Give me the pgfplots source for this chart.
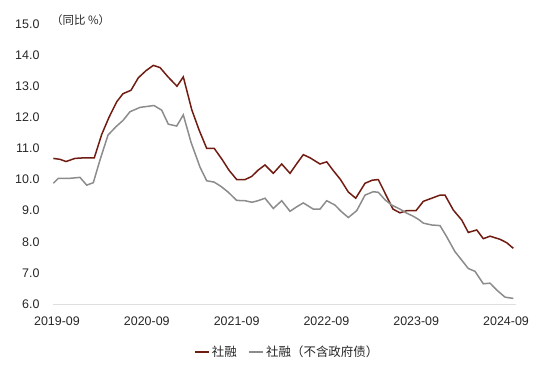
\documentclass[border=0pt]{standalone}
\usepackage{fontspec}
\setmainfont{Liberation Sans}
\newfontfamily\cjk{Noto Sans CJK SC}
\usepackage{pgfplots}
\pgfplotsset{compat=1.18}
\definecolor{sbrown}{RGB}{112,28,18}
\definecolor{sgray}{RGB}{140,140,140}
\definecolor{axgray}{RGB}{222,222,222}
\begin{document}
\begin{tikzpicture}[x=1bp,y=1bp]
\path[use as bounding box] (0,0) rectangle (550,366);
\begin{axis}[
 at={(53bp,62bp)}, anchor=south west,
 scale only axis, width=463bp, height=280bp,
 xmin=53, xmax=516, ymin=6, ymax=15,
 axis x line*=bottom, axis y line*=left,
 x axis line style={-, draw=axgray, line width=0.8bp},
 y axis line style={draw=none},
 xtick={57,146.8,236.6,326.4,416.2,506},
 xticklabels={2019-09,2020-09,2021-09,2022-09,2023-09,2024-09},
 ytick={6,7,...,15},
 /pgf/number format/assume math mode=true,
 tick label style={font=\fontsize{12.5}{15}\selectfont, text=black!85},
 xticklabel style={yshift=-5bp},
 y tick label style={xshift=-6bp,/pgf/number format/.cd,fixed,fixed zerofill,precision=1},
 ytick style={draw=none},
 xtick style={draw=none},
 tick align=outside, major tick length=4bp,
 clip=false,
 legend style={at={(0.506,-0.171)}, anchor=center, draw=none, fill=none,
   legend columns=2, font=\cjk\fontsize{12.5}{15}\selectfont, text=black!85,
   /tikz/every even column/.append style={column sep=10bp}},
 legend image code/.code={\draw[#1] (0bp,0bp) -- (14bp,0bp);},
]
\addplot[sbrown, line width=1.5bp] table {
53.3 10.68
60 10.65
66 10.58
75 10.68
85 10.7
94.3 10.7
101.7 11.45
109 12.0
116.7 12.5
123 12.76
131 12.87
138.3 13.27
146 13.5
153.3 13.67
160 13.6
168 13.3
177 13.0
183.3 13.3
191.7 12.25
199 11.6
206.7 11.0
214.3 11.0
222 10.65
229 10.3
236.7 10.0
245 10.0
251.7 10.1
258 10.3
265 10.47
273.3 10.2
281.7 10.5
290 10.2
296.5 10.5
303.3 10.8
310 10.7
320 10.5
326.7 10.57
333 10.3
340.5 10.0
348.3 9.6
355.7 9.4
365 9.88
372.3 9.98
378.3 10.0
386 9.5
393 9.05
400 8.93
406.7 9.0
416 9.0
423.3 9.3
431.7 9.4
440 9.5
445 9.5
453.3 9.02
461.7 8.7
468.3 8.3
476.7 8.38
483.3 8.1
490 8.18
500 8.08
506.7 7.97
513.3 7.79
};
\addlegendentry{社融}
\addplot[sgray, line width=1.5bp] table {
53.3 9.88
58.3 10.04
70 10.04
80 10.07
86.7 9.82
93.3 9.9
100 10.63
108 11.43
116 11.7
123 11.9
130 12.18
140 12.32
147 12.35
154 12.38
161.7 12.23
168.3 11.78
176.7 11.72
183.3 12.08
191 11.2
200 10.4
206.7 9.96
214 9.92
221 9.78
228 9.6
236.7 9.33
245 9.32
252 9.27
258 9.32
265 9.4
273.3 9.07
281.7 9.32
290 8.98
296.5 9.12
303.3 9.25
313.3 9.05
320 9.05
326.7 9.32
335 9.18
341 8.98
348.3 8.78
356.7 9.0
365 9.5
373.3 9.61
378.3 9.59
385 9.35
391.7 9.18
400 9.05
406.7 8.92
413.3 8.82
418.5 8.72
423.3 8.6
431.7 8.54
440 8.52
446.7 8.16
455 7.68
461.7 7.41
468.3 7.14
475 7.05
483.3 6.65
490 6.67
496.7 6.45
505 6.22
513.3 6.18
};
\addlegendentry{社融（不含政府债）}
\end{axis}
\node[anchor=west, inner sep=0, font=\cjk\fontsize{11.5}{14}\selectfont, text=black!85] at (51,346) {（同比 \%）};
\end{tikzpicture}
\end{document}
